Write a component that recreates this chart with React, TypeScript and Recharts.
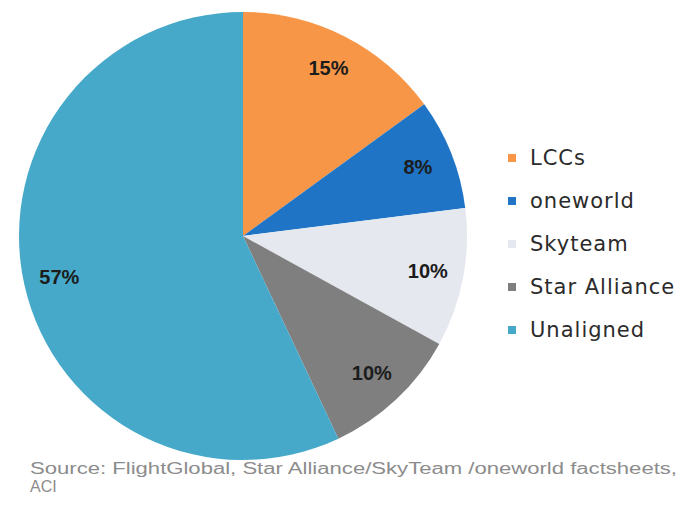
import { Pie, PieChart, Cell } from "recharts";

const categories = ["LCCs", "oneworld", "Skyteam", "Star Alliance", "Unaligned"];
const shares = [15, 8, 10, 10, 57];
const palette = ["#F79646", "#1F74C6", "#E5E8EE", "#7F7F7F", "#46A9C9"];

const sourceLines = [
  "Source: FlightGlobal, Star Alliance/SkyTeam /oneworld factsheets,",
  "ACI",
];

const rows = categories.map((name, i) => ({ name, value: shares[i], fill: palette[i] }));

const RAD = Math.PI / 180;

function PctLabel(props: any) {
  const { cx, cy, midAngle, outerRadius, value } = props;
  const r = outerRadius * 0.84;
  const x = cx + r * Math.cos(-midAngle * RAD);
  const y = cy + r * Math.sin(-midAngle * RAD);
  return (
    <text
      x={x}
      y={y}
      textAnchor="middle"
      dominantBaseline="central"
      fill="#1c1c1c"
      fontFamily="'Liberation Sans', Arial, sans-serif"
      fontWeight="bold"
      fontSize={20}
    >
      {value}%
    </text>
  );
}

export default function App() {
  return (
    <div style={{ position: "absolute", left: 0, top: 0, width: 684, height: 505, background: "#fff" }}>
      <PieChart width={684} height={505} margin={{ top: 0, right: 0, bottom: 0, left: 0 }}>
        <Pie
          data={rows}
          dataKey="value"
          nameKey="name"
          cx={243}
          cy={236}
          outerRadius={224}
          startAngle={90}
          endAngle={-270}
          stroke="none"
          label={PctLabel}
          labelLine={false}
          isAnimationActive={false}
        >
          {rows.map((r, i) => (
            <Cell key={i} fill={r.fill} />
          ))}
        </Pie>
      </PieChart>
      <ul style={{ position: "absolute", left: 508, top: 136, listStyle: "none", margin: 0, padding: 0 }}>
        {rows.map((r, i) => (
          <li key={i} style={{ display: "flex", alignItems: "center", height: 43 }}>
            <span
              style={{ width: 8, height: 8, background: r.fill, marginRight: 14, display: "inline-block" }}
            />
            <span
              style={{
                fontFamily: "'DejaVu Sans', sans-serif",
                fontSize: 21,
                letterSpacing: 1,
                color: "#2b2b2b",
              }}
            >
              {r.name}
            </span>
          </li>
        ))}
      </ul>
      <svg width={684} height={505} style={{ position: "absolute", left: 0, top: 0, pointerEvents: "none" }}>
        {sourceLines.map((s, i) => (
          <text
            key={i}
            x={30}
            y={474 + i * 18}
            fill="#8c8c8c"
            fontFamily="'Liberation Sans', Arial, sans-serif"
            fontSize={16}
            textLength={i === 0 ? 647 : undefined}
            lengthAdjust="spacingAndGlyphs"
          >
            {s}
          </text>
        ))}
      </svg>
    </div>
  );
}
